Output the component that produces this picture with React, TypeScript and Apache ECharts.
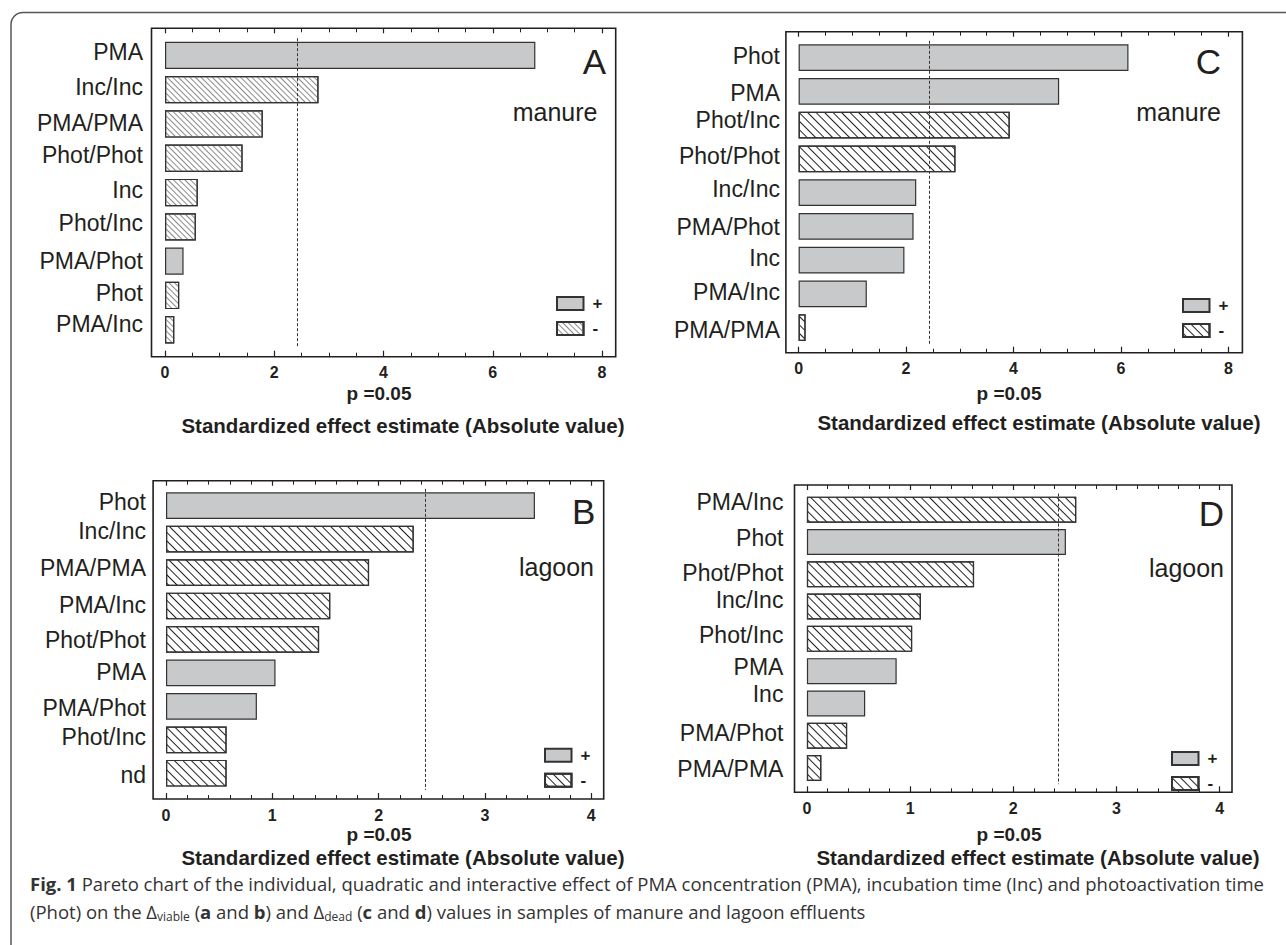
import React, { useEffect, useRef } from "react";
import * as echarts from "echarts";

// ---------- data ----------
const catsA = ["PMA", "Inc/Inc", "PMA/PMA", "Phot/Phot", "Inc", "Phot/Inc", "PMA/Phot", "Phot", "PMA/Inc"];
const valsA = [6.78, 2.81, 1.79, 1.42, 0.6, 0.565, 0.34, 0.26, 0.17];
const signsA = ["+", "-", "-", "-", "-", "-", "+", "-", "-"];
const critA = 2.43;

const catsC = ["Phot", "PMA", "Phot/Inc", "Phot/Phot", "Inc/Inc", "PMA/Phot", "Inc", "PMA/Inc", "PMA/PMA"];
const valsC = [6.14, 4.85, 3.93, 2.92, 2.19, 2.14, 1.97, 1.27, 0.13];
const signsC = ["+", "+", "-", "-", "+", "+", "+", "+", "-"];
const critC = 2.44;

const catsB = ["Phot", "Inc/Inc", "PMA/PMA", "PMA/Inc", "Phot/Phot", "PMA", "PMA/Phot", "Phot/Inc", "nd"];
const valsB = [3.47, 2.33, 1.91, 1.545, 1.44, 1.03, 0.855, 0.57, 0.57];
const signsB = ["+", "-", "-", "-", "-", "+", "+", "-", "-"];
const critB = 2.44;

const catsD = ["PMA/Inc", "Phot", "Phot/Phot", "Inc/Inc", "Phot/Inc", "PMA", "Inc", "PMA/Phot", "PMA/PMA"];
const valsD = [2.61, 2.51, 1.62, 1.105, 1.02, 0.87, 0.565, 0.39, 0.14];
const signsD = ["-", "+", "-", "-", "-", "+", "+", "-", "-"];
const critD = 2.44;

const axisMaxManure = 8;
const axisIntervalManure = 2;
const axisMaxLagoon = 4;
const axisIntervalLagoon = 1;

const pLabel = "p =0.05";
const xTitle = "Standardized effect estimate (Absolute value)";

// ---------- style / layout ----------
const FONT = "'Liberation Sans', Arial, Helvetica, sans-serif";
const CAPFONT = "'Open Sans', 'Liberation Sans', Arial, sans-serif";
const INK = "#231f20";
const GRAY = "#c8c9cb";

// vertical lift (px) of each category label relative to its bar centre, as typeset in the figure
const liftA = [3.7, 2.5, 0.7, 3.2, 3, 3.4, 0.2, 2.4, 6.2];
const liftC = [1.4, -2, 4.9, 2.7, 4, -0.6, 1.7, 2, -2];
const liftB = [3.7, 7.6, 4.7, 1.4, -0.3, 1, -1.3, 2.4, -1.3];
const liftD = [7.4, 3.7, 1, 7, 4, 3.7, 9.4, 2.7, -1.3];

type Panel = {
  id: string;
  cats: string[];
  vals: number[];
  signs: string[];
  crit: number;
  max: number;
  interval: number;
  minorSplit: number;
  letter: string;
  sample: string;
  hatchColor: string;
  hatchGap: number;
  lift: number[];
  gx: number; gw: number; gy: number; gh: number;
  fx: number; fy: number; fw: number; fh: number;
  barW: number; labelMargin: number;
  legX: number; legY: number;
  letterX: number; letterY: number;
  sampleX: number; sampleY: number;
  pX: number; pY: number;
  tX: number; tY: number;
};

const panels: Panel[] = [
  {
    id: "A", cats: catsA, vals: valsA, signs: signsA, crit: critA, max: axisMaxManure, interval: axisIntervalManure, minorSplit: 4,
    letter: "A", sample: "manure", hatchColor: "#8a8a8a", hatchGap: 2.6, lift: liftA,
    gx: 165, gw: 437, gy: 38.2, gh: 308.7,
    fx: 151.5, fy: 28.3, fw: 464.2, fh: 328.4,
    barW: 27.3, labelMargin: 22,
    legX: 556, legY: 295,
    letterX: 606, letterY: 61, sampleX: 597.5, sampleY: 111.7,
    pX: 379, pY: 393, tX: 403, tY: 425,
  },
  {
    id: "C", cats: catsC, vals: valsC, signs: signsC, crit: critC, max: axisMaxManure, interval: axisIntervalManure, minorSplit: 4,
    letter: "C", sample: "manure", hatchColor: "#222222", hatchGap: 4.5, lift: liftC,
    gx: 798.6, gw: 429.8, gy: 40.8, gh: 303.7,
    fx: 785.9, fy: 31.7, fw: 456.5, fh: 321,
    barW: 26.7, labelMargin: 18.6,
    legX: 1182, legY: 297,
    letterX: 1221, letterY: 61, sampleX: 1221, sampleY: 111.7,
    pX: 1009, pY: 393, tX: 1039, tY: 422,
  },
  {
    id: "B", cats: catsB, vals: valsB, signs: signsB, crit: critB, max: axisMaxLagoon, interval: axisIntervalLagoon, minorSplit: 5,
    letter: "B", sample: "lagoon", hatchColor: "#222222", hatchGap: 4.5, lift: liftB,
    gx: 166, gw: 425.3, gy: 488.9, gh: 301.1,
    fx: 153.1, fy: 480.7, fw: 450.6, fh: 318.3,
    barW: 26.7, labelMargin: 20,
    legX: 544, legY: 746.7,
    letterX: 595.4, letterY: 511.5, sampleX: 594, sampleY: 566.7,
    pX: 379, pY: 834, tX: 403, tY: 857,
  },
  {
    id: "D", cats: catsD, vals: valsD, signs: signsD, crit: critD, max: axisMaxLagoon, interval: axisIntervalLagoon, minorSplit: 5,
    letter: "D", sample: "lagoon", hatchColor: "#222222", hatchGap: 4.5, lift: liftD,
    gx: 806.9, gw: 412.8, gy: 493.5, gh: 290.7,
    fx: 794.5, fy: 485, fw: 437.5, fh: 307.3,
    barW: 26, labelMargin: 23.5,
    legX: 1171, legY: 750,
    letterX: 1224, letterY: 513, sampleX: 1224, sampleY: 568.3,
    pX: 1009, pY: 834, tX: 1038, tY: 857,
  },
];

function txt(x: number, y: number, text: string, size: number, align: string, weight = "normal", family = FONT) {
  return {
    type: "text",
    x, y, silent: true, z: 20,
    style: {
      text, fill: INK, fontSize: size, fontFamily: family, fontWeight: weight,
      align, verticalAlign: "middle", textAlign: align, textVerticalAlign: "middle",
    },
  };
}

function buildOption() {
  const grid: any[] = [];
  const xAxis: any[] = [];
  const yAxis: any[] = [];
  const series: any[] = [];
  const legend: any[] = [];
  const graphic: any[] = [];

  panels.forEach((p, i) => {
    grid.push({ left: p.gx, top: p.gy, width: p.gw, height: p.gh, containLabel: false });
    const tickCommon = {
      type: "value", gridIndex: i, min: 0, max: p.max, interval: p.interval,
      axisLine: { show: false },
      axisTick: { show: true, inside: true, length: 6, lineStyle: { color: INK, width: 1.2 } },
      minorTick: { show: true, splitNumber: p.minorSplit, length: 4, lineStyle: { color: INK, width: 1 } },
      splitLine: { show: false }, minorSplitLine: { show: false },
    };
    xAxis.push({
      ...tickCommon, position: "bottom", offset: p.fy + p.fh - (p.gy + p.gh),
      axisLabel: { show: true, margin: 8, fontFamily: FONT, fontSize: 16, fontWeight: "bold", color: INK },
    });
    xAxis.push({
      ...tickCommon, position: "top", offset: p.gy - p.fy,
      axisTick: { ...tickCommon.axisTick, length: 5 },
      axisLabel: { show: false },
    });
    const rich: any = {};
    p.lift.forEach((l, k) => {
      rich["l" + k] = {
        fontFamily: FONT, fontSize: 23, color: INK,
        padding: l >= 0 ? [0, 0, 2 * l, 0] : [-2 * l, 0, 0, 0],
      };
    });
    yAxis.push({
      type: "category", gridIndex: i, data: p.cats, inverse: true,
      axisLine: { show: false }, axisTick: { show: false }, splitLine: { show: false },
      axisLabel: {
        margin: p.labelMargin, fontFamily: FONT, fontSize: 23, color: INK,
        formatter: (v: string, idx: number) => `{l${idx}|${v}}`,
        rich,
      },
    });
    const plus = p.vals.map((v, k) => (p.signs[k] === "+" ? v : "-"));
    const minus = p.vals.map((v, k) => (p.signs[k] === "-" ? v : "-"));
    series.push({
      name: p.id + "+", type: "bar", xAxisIndex: 2 * i, yAxisIndex: i, data: plus,
      barWidth: p.barW, barGap: "-100%",
      itemStyle: { color: GRAY, borderColor: "#333", borderWidth: 1.2 },
      markLine: {
        silent: true, symbol: ["none", "none"], label: { show: false },
        lineStyle: { type: [3, 2], color: "#333", width: 1 },
        data: [{ xAxis: p.crit }],
      },
    });
    series.push({
      name: p.id + "-", type: "bar", xAxisIndex: 2 * i, yAxisIndex: i, data: minus,
      barWidth: p.barW, barGap: "-100%",
      itemStyle: {
        color: "#ffffff", borderColor: "#333", borderWidth: 1.2,
        decal: {
          symbol: "rect", symbolSize: 1, color: p.hatchColor,
          dashArrayX: [1, 0], dashArrayY: [1, p.hatchGap], rotation: Math.PI / 4,
        },
      },
    });
    legend.push({
      show: true, orient: "vertical", left: p.legX, top: p.legY, padding: 0,
      itemWidth: 26.5, itemHeight: 13, itemGap: 8, icon: "rect", selectedMode: false,
      data: [p.id + "+", p.id + "-"],
      formatter: (name: string) => name.slice(-1),
      textStyle: { fontFamily: FONT, fontSize: 17, fontWeight: "bold", color: INK, padding: [0, 0, 0, 4] },
    });
    graphic.push({
      type: "rect", silent: true, z: 15,
      shape: { x: p.fx, y: p.fy, width: p.fw, height: p.fh },
      style: { fill: "none", stroke: INK, lineWidth: 1.6 },
    });
    graphic.push(txt(p.letterX, p.letterY, p.letter, 35, "right"));
    graphic.push(txt(p.sampleX, p.sampleY, p.sample, 25, "right"));
    graphic.push(txt(p.pX, p.pY, pLabel, 19, "center", "bold"));
    graphic.push(txt(p.tX, p.tY, xTitle, 20.5, "center", "bold"));
  });

  // outer box
  graphic.push({
    type: "rect", silent: true, z: 1,
    shape: { x: 11, y: 12.5, width: 1320, height: 960, r: 12 },
    style: { fill: "none", stroke: "#555", lineWidth: 1.5 },
  });

  // caption
  const rich = {
    b: { fontFamily: CAPFONT, fontWeight: "bold", fontSize: 18.5, fill: "#333", color: "#333" },
    r: { fontFamily: CAPFONT, fontSize: 18.5, fill: "#333", color: "#333" },
    s: { fontFamily: CAPFONT, fontSize: 12, fill: "#333", color: "#333", padding: [10, 0, 0, 0] },
  };
  graphic.push({
    type: "text", x: 30, y: 883, silent: true, z: 20,
    style: {
      text: "{b|Fig. 1}{r| Pareto chart of the individual, quadratic and interactive effect of PMA concentration (PMA), incubation time (Inc) and photoactivation time}",
      rich, verticalAlign: "middle", textVerticalAlign: "middle", fill: "#333",
    },
  });
  graphic.push({
    type: "text", x: 30, y: 911, silent: true, z: 20,
    style: {
      text: "{r|(Phot) on the Δ}{s|viable}{r| (}{b|a}{r| and }{b|b}{r|) and Δ}{s|dead}{r| (}{b|c}{r| and }{b|d}{r|) values in samples of manure and lagoon effluents}",
      rich, verticalAlign: "middle", textVerticalAlign: "middle", fill: "#333",
    },
  });

  return {
    animation: false,
    backgroundColor: "#ffffff",
    grid, xAxis, yAxis, series, legend, graphic,
  };
}

export default function App() {
  const ref = useRef<HTMLDivElement>(null);
  useEffect(() => {
    document.body.style.margin = "0";
    if (!ref.current) return;
    const chart = echarts.init(ref.current, undefined, { renderer: "svg" });
    chart.setOption(buildOption() as any);
    return () => chart.dispose();
  }, []);
  return <div ref={ref} style={{ width: 1286, height: 945 }} />;
}
